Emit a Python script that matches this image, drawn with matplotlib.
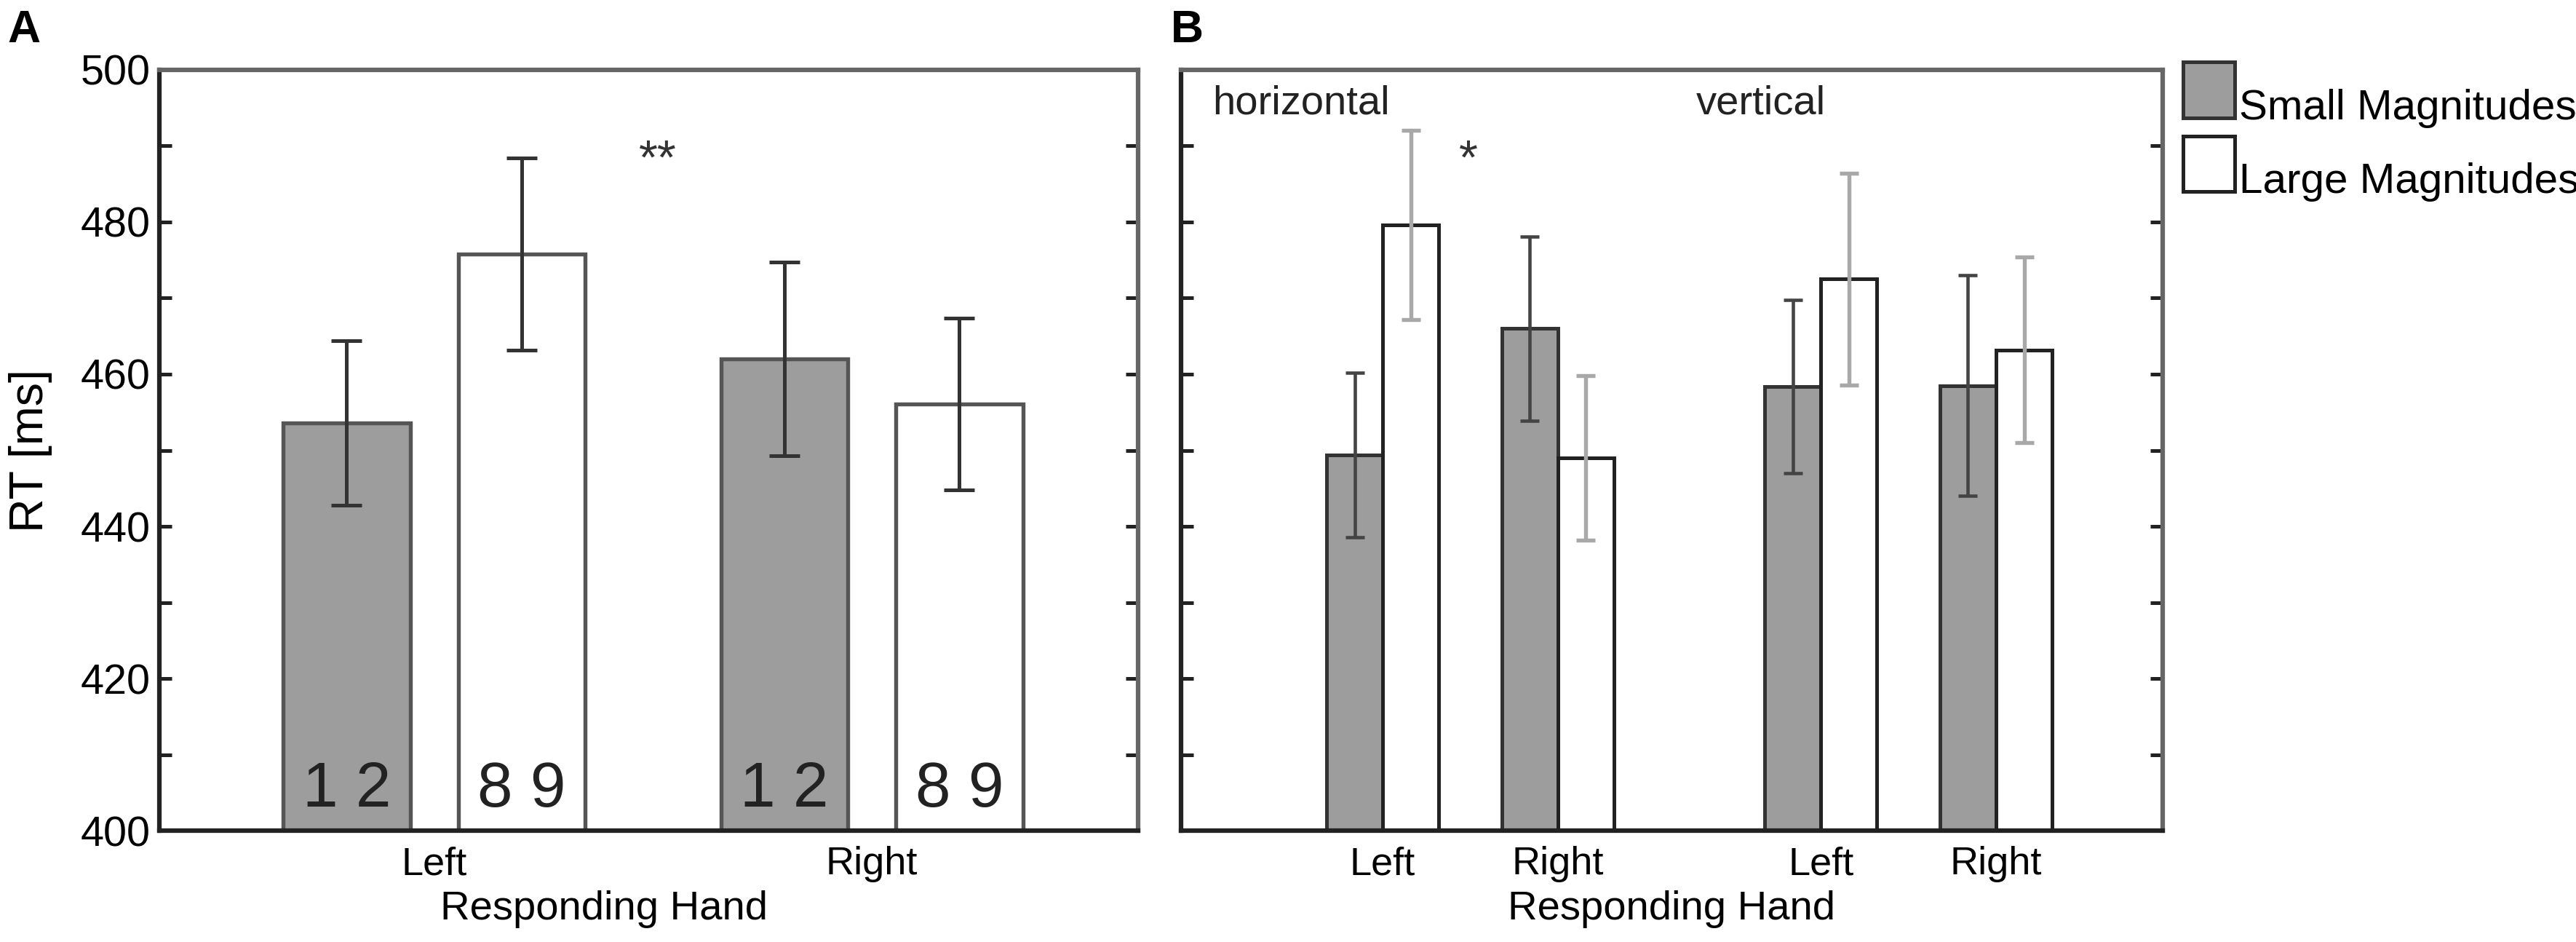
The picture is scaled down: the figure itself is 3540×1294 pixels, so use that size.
import numpy as np
import matplotlib
matplotlib.use('Agg')
import matplotlib.pyplot as plt
from matplotlib.patches import Patch, Rectangle
from matplotlib.legend_handler import HandlerPatch
from matplotlib.ticker import MultipleLocator

plt.rcParams['font.family'] = ['Liberation Sans', 'DejaVu Sans']

# panel A: mean RT and error per responding hand
hands = ['Left', 'Right']
a_small = [453.6, 462.0]
a_small_err = [10.8, 12.7]
a_large = [475.8, 456.1]
a_large_err = [12.6, 11.3]
digit_labels = ['1 2', '8 9']

# panel B: horizontal (Left, Right) then vertical (Left, Right)
b_hands = ['Left', 'Right', 'Left', 'Right']
b_small = [449.4, 466.0, 458.4, 458.5]
b_small_err = [10.8, 12.1, 11.4, 14.5]
b_large = [479.6, 449.0, 472.5, 463.2]
b_large_err = [12.4, 10.8, 13.9, 12.2]

gray = '#9d9d9d'

fig = plt.figure(figsize=(11.8, 1294/300), dpi=300)
axA = fig.add_axes([0.0619, 0.118, 0.380, 0.808])
axB = fig.add_axes([0.4585, 0.118, 0.381, 0.808])

def style(ax):
    ax.set_ylim(400, 500)
    ax.yaxis.set_major_locator(MultipleLocator(20))
    ax.yaxis.set_minor_locator(MultipleLocator(10))
    ax.tick_params(axis='y', which='both', direction='in', left=True, right=True,
                   length=4, width=1.2, color='#222', labelsize=13.8, pad=3)
    ax.tick_params(axis='x', length=0, labelsize=13, pad=5)
    for s in ['left', 'bottom']:
        ax.spines[s].set_color('#222')
    for s in ['top', 'right']:
        ax.spines[s].set_color('#666')
    for s in ax.spines.values():
        s.set_linewidth(1.5)

# ---- panel A
xa = np.arange(1, 3)
off = 0.2
w = 0.29
axA.bar(xa - off, np.array(a_small) - 400, w, bottom=400, color=gray,
        edgecolor='#555', linewidth=1.3)
axA.bar(xa + off, np.array(a_large) - 400, w, bottom=400, color='white',
        edgecolor='#555', linewidth=1.3)
axA.errorbar(xa - off, a_small, yerr=a_small_err, fmt='none', ecolor='#333',
             elinewidth=1.2, capsize=5, capthick=1.2)
axA.errorbar(xa + off, a_large, yerr=a_large_err, fmt='none', ecolor='#333',
             elinewidth=1.2, capsize=5, capthick=1.2)
for xi in xa:
    axA.text(xi - off, 405.3, digit_labels[0], ha='center', va='center',
             fontsize=21, color='#222')
    axA.text(xi + off, 405.3, digit_labels[1], ha='center', va='center',
             fontsize=21, color='#222')
axA.text(1.51, 488.0, '**', ha='center', va='center', fontsize=16, color='#333')
axA.set_xlim(0.372, 2.609)
axA.set_xticks(xa)
axA.set_xticklabels(hands)
style(axA)
axA.set_ylabel('RT [ms]', fontsize=15.5)
axA.yaxis.set_label_coords(-0.109, 0.5)
axA.set_xlabel('Responding Hand', fontsize=13.5, labelpad=2.5)
axA.xaxis.label.set_x(0.454)

# ---- panel B
xb = np.array([1, 2, 3.5, 4.5])
wb = 0.32
offb = 0.16
axB.bar(xb - offb, np.array(b_small) - 400, wb, bottom=400, color=gray,
        edgecolor='#333', linewidth=1.2)
axB.bar(xb + offb, np.array(b_large) - 400, wb, bottom=400, color='white',
        edgecolor='#222', linewidth=1.2)
axB.errorbar(xb - offb, b_small, yerr=b_small_err, fmt='none', ecolor='#444',
             elinewidth=1.1, capsize=3.2, capthick=1.1)
eb = axB.errorbar(xb + offb, b_large, yerr=b_large_err, fmt='none', ecolor='#a8a8a8',
                  elinewidth=1.3, capsize=3.2, capthick=1.3)
for cap in eb[1]:
    cap.set_color('#707070')
axB.text(0.03, 495.5, 'horizontal', ha='left', va='center', fontsize=13.5, color='#222')
axB.text(2.79, 495.5, 'vertical', ha='left', va='center', fontsize=13.5, color='#222')
axB.text(1.49, 488.0, '*', ha='center', va='center', fontsize=16, color='#333')
axB.set_xlim(-0.15, 5.45)
axB.set_xticks(xb)
axB.set_xticklabels(b_hands)
style(axB)
axB.tick_params(axis='y', labelleft=False)
axB.set_xlabel('Responding Hand', fontsize=13.5, labelpad=2.5)


# legend boxes sit a bit higher than their text, as in the original
def raised_box(legend, orig_handle, xdescent, ydescent, width, height, fontsize):
    return Rectangle((-xdescent, -ydescent + 4), width, height + 2)


handles = [Patch(facecolor=gray, edgecolor='#333', linewidth=1.2),
           Patch(facecolor='white', edgecolor='#222', linewidth=1.2)]
fig.legend(handles, ['Small Magnitudes', 'Large Magnitudes'], loc='upper left',
           bbox_to_anchor=(0.8475, 0.9147), frameon=False, fontsize=14,
           handlelength=1.22, handleheight=1.43, handletextpad=0.1,
           labelspacing=0.56, borderaxespad=0, borderpad=0,
           handler_map={Patch: HandlerPatch(patch_func=raised_box)})

fig.text(0.003, 0.968, 'A', fontsize=15, fontweight='bold', ha='left', va='center')
fig.text(0.4545, 0.968, 'B', fontsize=15, fontweight='bold', ha='left', va='center')

fig.savefig('out.png', dpi=300)
